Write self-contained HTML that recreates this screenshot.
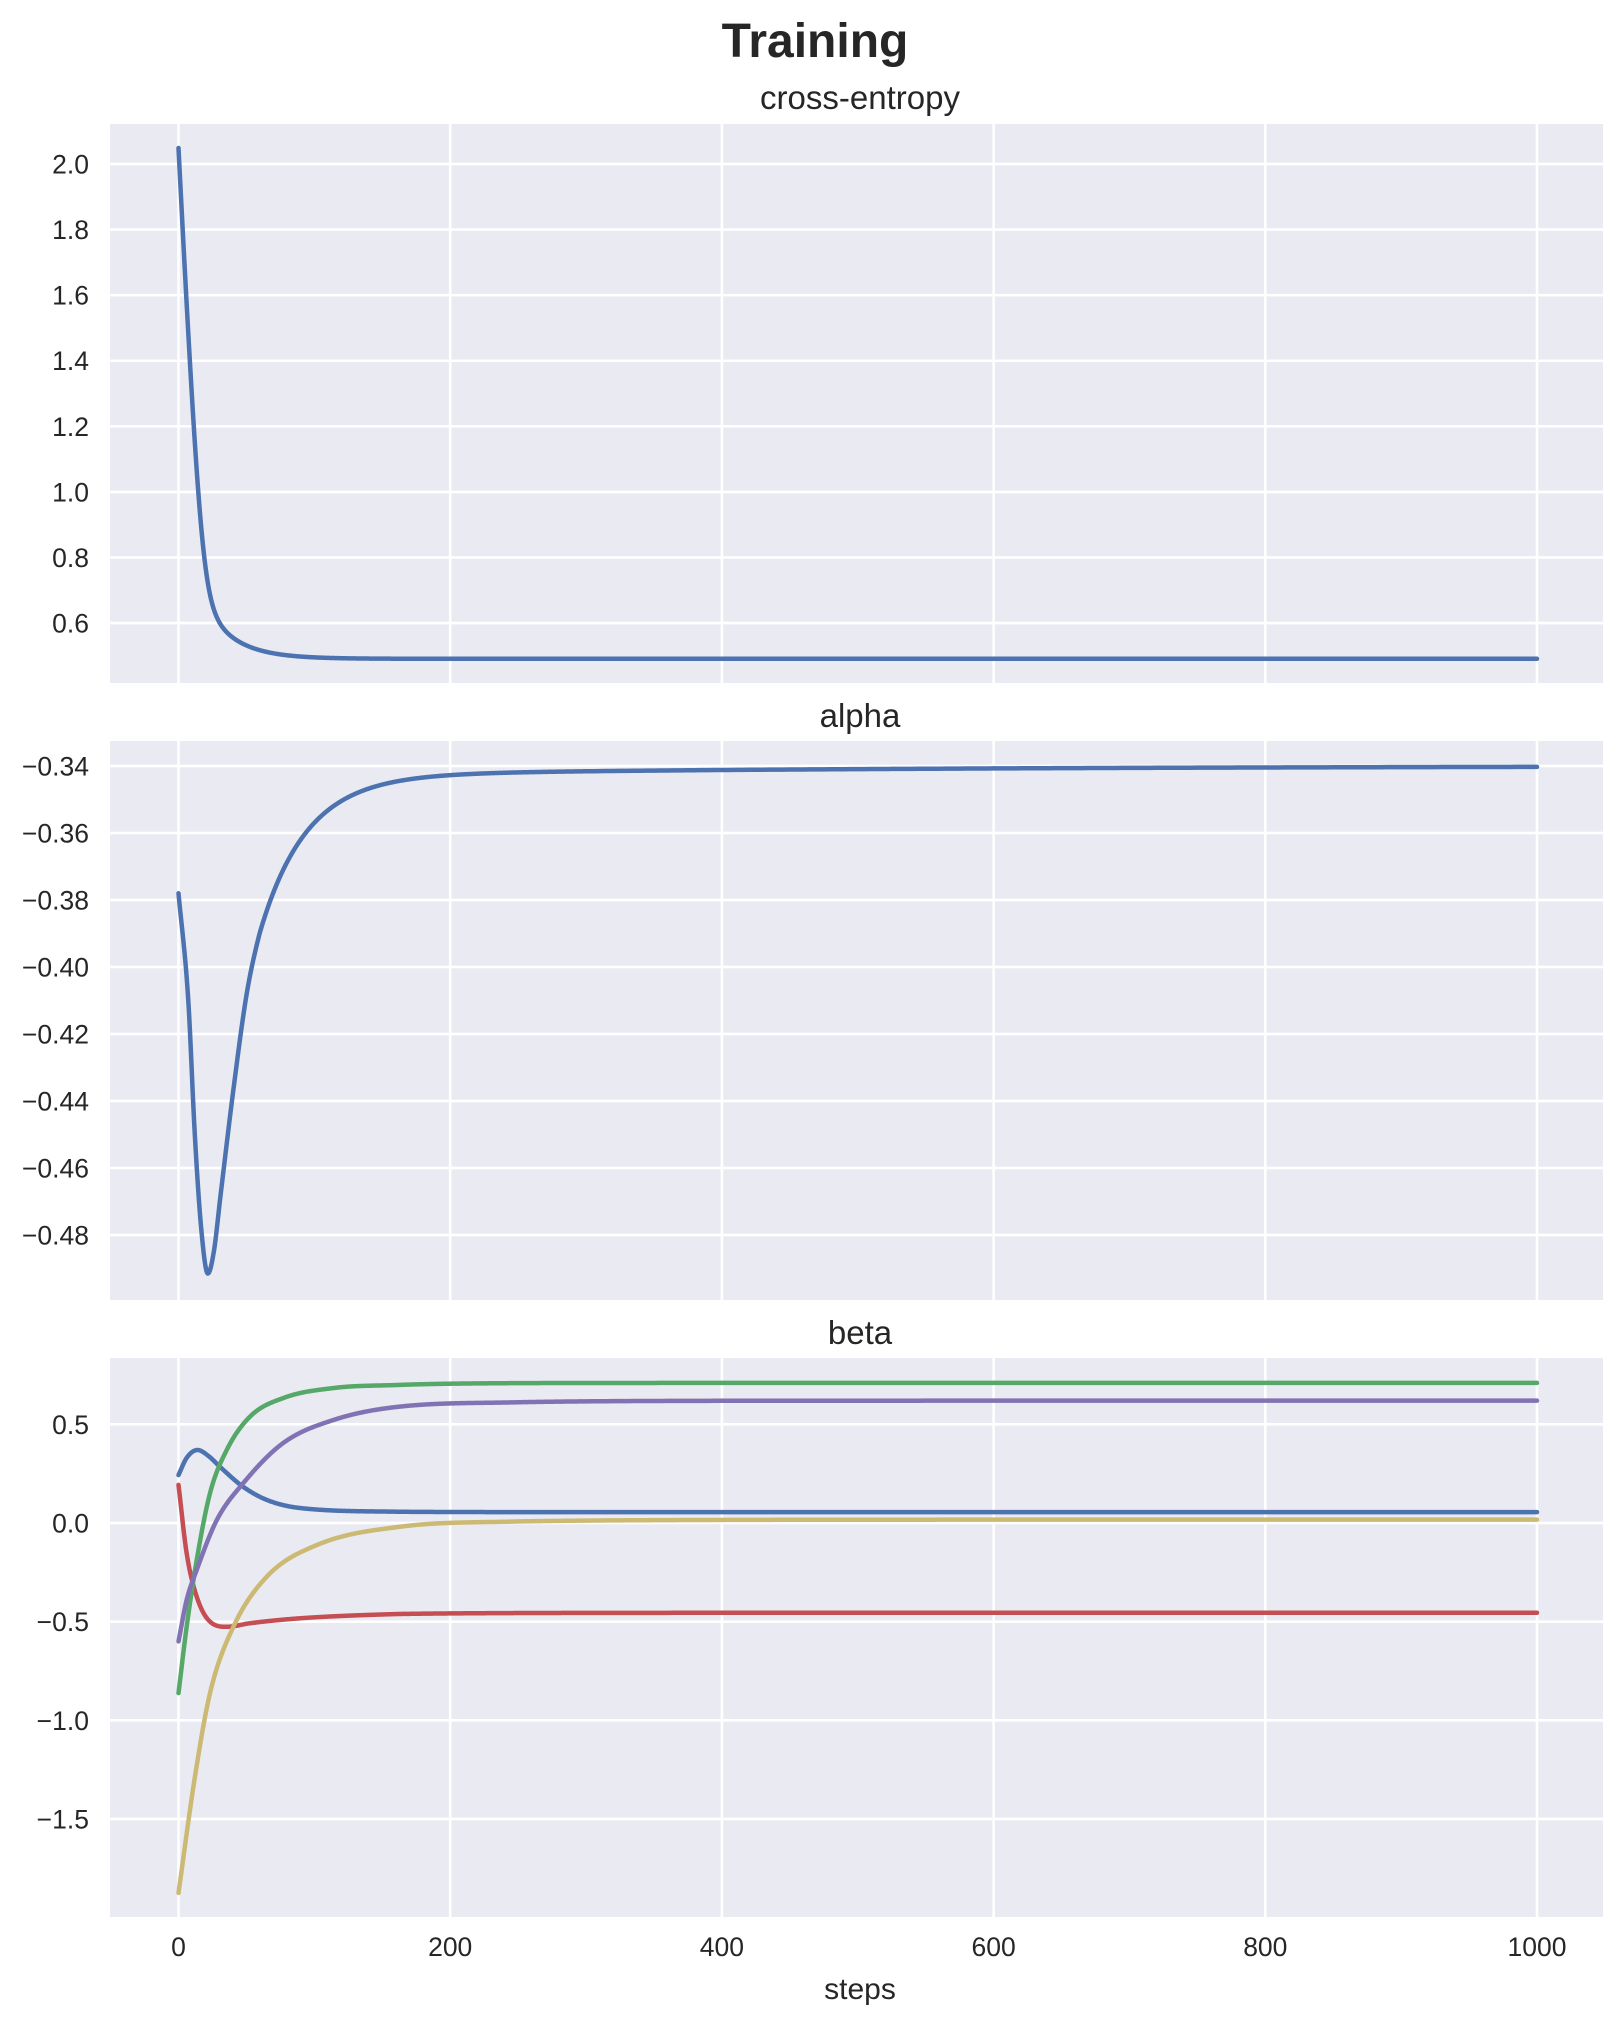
<!DOCTYPE html>
<html><head><meta charset="utf-8">
<style>
html,body{margin:0;padding:0;background:#fff;}
svg{display:block;font-family:"Liberation Sans",Arial,sans-serif;}
</style></head>
<body>
<svg id="s" width="1623" height="2023" xmlns="http://www.w3.org/2000/svg">
<text x="815" y="57" font-size="48" font-weight="bold" fill="#262626" text-anchor="middle">Training</text>
<text x="860" y="109" font-size="33" fill="#262626" text-anchor="middle">cross-entropy</text>
<text x="860" y="727" font-size="33" fill="#262626" text-anchor="middle">alpha</text>
<text x="860" y="1344" font-size="33" fill="#262626" text-anchor="middle">beta</text>
<text x="860" y="1999" font-size="30" fill="#262626" text-anchor="middle">steps</text>
<g id="g"></g>
</svg>
<script>
const NS="http://www.w3.org/2000/svg";
const g=document.getElementById('g');
function el(t,a,txt){const e=document.createElementNS(NS,t);for(const k in a)e.setAttribute(k,a[k]);if(txt!==undefined)e.textContent=txt;g.appendChild(e);return e;}
const L=110,R=1603;
const X=s=>178.5+1.3585*s;
const panels=[
 {top:124,bot:683,Y:v=>164+(2.0-v)*327.9,ticks:[0.6,0.8,1.0,1.2,1.4,1.6,1.8,2.0],fmt:v=>v.toFixed(1)},
 {top:741,bot:1300,Y:v=>766+(-0.34-v)*3350,ticks:[-0.34,-0.36,-0.38,-0.40,-0.42,-0.44,-0.46,-0.48],fmt:v=>v.toFixed(2)},
 {top:1358,bot:1917,Y:v=>1523-197.3*v,ticks:[0.5,0,-0.5,-1.0,-1.5],fmt:v=>v.toFixed(1)}
];
panels.forEach(p=>{
 el('rect',{x:L,y:p.top,width:R-L,height:p.bot-p.top,fill:'#eaeaf2'});
 [0,200,400,600,800,1000].forEach(s=>el('line',{x1:X(s),x2:X(s),y1:p.top,y2:p.bot,stroke:'#fff','stroke-width':2.6}));
 p.ticks.forEach(v=>{const y=p.Y(v);
  el('line',{x1:L,x2:R,y1:y,y2:y,stroke:'#fff','stroke-width':2.6});
  el('text',{x:89,y:y+9.5,'font-size':26.5,fill:'#262626','text-anchor':'end'},p.fmt(v).replace('-','\u2212'));
 });
});
[0,200,400,600,800,1000].forEach(s=>el('text',{x:X(s),y:1956,'font-size':26.5,fill:'#262626','text-anchor':'middle'},String(s)));
function mono(pts){
 const n=pts.length,xs=pts.map(p=>p[0]),ys=pts.map(p=>p[1]);
 const d=[],m=[];
 for(let i=0;i<n-1;i++)d.push((ys[i+1]-ys[i])/(xs[i+1]-xs[i]));
 m[0]=d[0];m[n-1]=d[n-2];
 for(let i=1;i<n-1;i++){m[i]=(d[i-1]*d[i]<=0)?0:(d[i-1]+d[i])/2;}
 for(let i=0;i<n-1;i++){if(d[i]===0){m[i]=0;m[i+1]=0;continue;}
  const a=m[i]/d[i],b=m[i+1]/d[i],h=a*a+b*b;if(h>9){const t=3/Math.sqrt(h);m[i]=t*a*d[i];m[i+1]=t*b*d[i];}}
 return s=>{let i=0;while(i<n-2&&s>xs[i+1])i++;
  const h=xs[i+1]-xs[i],t=(s-xs[i])/h,t2=t*t,t3=t2*t;
  return (2*t3-3*t2+1)*ys[i]+(t3-2*t2+t)*h*m[i]+(-2*t3+3*t2)*ys[i+1]+(t3-t2)*h*m[i+1];};
}
function draw(p,fn,col){
 let d='';
 for(let s=0;s<=1000;s+=(s<300?0.5:5)){d+=(d?'L':'M')+X(s).toFixed(2)+','+p.Y(fn(s)).toFixed(2);}
 el('path',{d:d,fill:'none',stroke:col,'stroke-width':4.5,'stroke-linecap':'round','stroke-linejoin':'round'});
}
function curve(p,pts,s0,v0,F,tau,col,extra){
 const tail=s=>F+(v0-F)*Math.exp(-(s-s0)/tau)+(extra?extra(s):0);
 const k=pts.concat([[s0,tail(s0)],[s0+3,tail(s0+3)],[s0+8,tail(s0+8)]]);
 const f=mono(k);
 draw(p,s=>s<s0?f(s):tail(s),col);
}
const B='#4c72b0',Gc='#55a868',Rc='#c44e52',P='#8172b3',Yc='#ccb974';
draw(panels[0],s=>0.491+0.264*Math.log(1+Math.exp((17.8-s)/4))+0.38*Math.exp(-s/22.4),B);
curve(panels[1],[[0,-0.378],[7.2,-0.41],[12,-0.45],[16.7,-0.478],[21.6,-0.4915],[26,-0.485],[31,-0.468],[40.6,-0.436],[50.2,-0.408]],59.7,-0.3872,-0.340,34,B,s=>-0.0028*Math.exp(-(s-59.7)/400));
const p3=panels[2];
curve(p3,[[0,0.243],[6,0.33],[14,0.37],[22,0.34],[30.5,0.285],[47.5,0.184],[65,0.117],[89.4,0.076]],163,0.057,0.055,40,B);
curve(p3,[[0,0.193],[6,-0.153],[13.4,-0.373],[23.2,-0.5],[35.5,-0.526],[52.6,-0.508],[89.4,-0.483]],163,-0.461,-0.455,60,Rc);
curve(p3,[[0,-0.862],[6,-0.526],[13.4,-0.188],[23.2,0.151],[35.5,0.37],[52.6,0.539],[77,0.633],[114,0.684]],163,0.700,0.71,40,Gc);
curve(p3,[[0,-0.6],[6,-0.39],[13.4,-0.238],[28.2,0.015],[47.8,0.203],[77,0.405],[114,0.522],[163,0.59]],250,0.612,0.62,60,P);
curve(p3,[[0,-1.875],[12.1,-1.286],[23.2,-0.862],[40.4,-0.526],[65,-0.272],[101.7,-0.112],[163,-0.019]],250,0.008,0.017,80,Yc);
</script>
</body></html>
